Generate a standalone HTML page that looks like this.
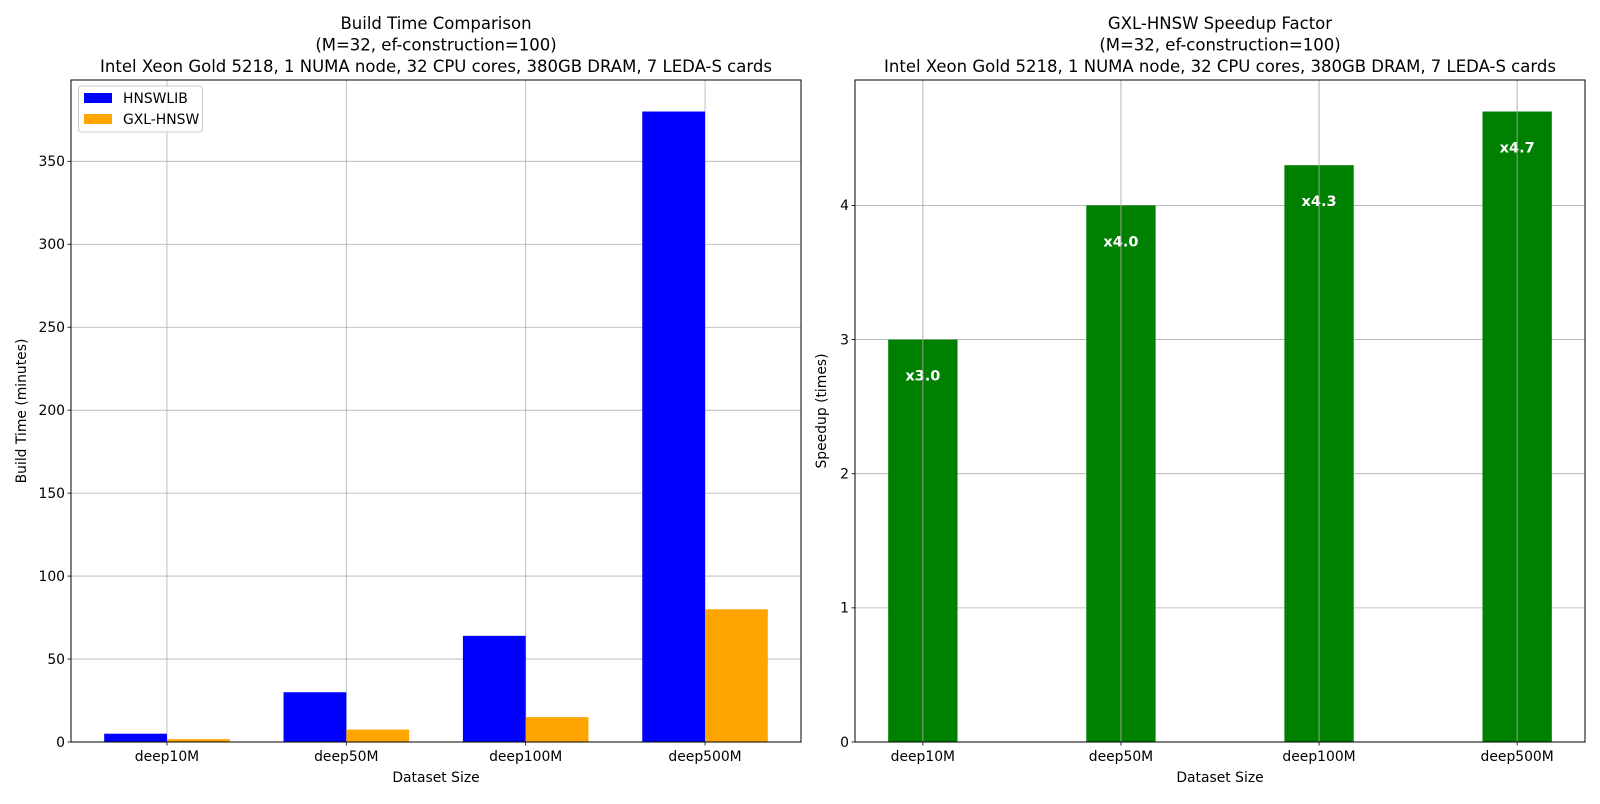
<!DOCTYPE html>
<html><head><meta charset="utf-8"><style>
body{margin:0;background:#fff;font-family:"DejaVu Sans","Liberation Sans",sans-serif}
svg text{font-family:"DejaVu Sans","Liberation Sans",sans-serif}
</style></head><body>
<svg id="c" width="1600" height="800" xmlns="http://www.w3.org/2000/svg"></svg>
<script>
const categories=["deep10M","deep50M","deep100M","deep500M"];
const hnswlib=[5,30,64,380];
const gxl=[1.7,7.5,15,80];
const speedup=[3.0,4.0,4.3,4.7];
const speedLabels=["x3.0","x4.0","x4.3","x4.7"];
const leftTicks=[0,50,100,150,200,250,300,350];
const rightTicks=[0,1,2,3,4];
const svg=document.getElementById('c');
const NS="http://www.w3.org/2000/svg";
function el(tag,attrs,parent,text){const e=document.createElementNS(NS,tag);for(const k in attrs)e.setAttribute(k,attrs[k]);if(text!==undefined)e.textContent=text;(parent||svg).appendChild(e);return e;}
function panel(opt){
  const g=el('g',{});
  
  
  const L=opt.L,R=opt.R,T=80,B=742;
  const xs=v=>L+(v-opt.xmin)/(opt.xmax-opt.xmin)*(R-L);
  const ys=v=>B-v/opt.ymax*(B-T);
  // titles
  opt.titles.forEach((t,i)=>{const e=el('text',{x:(L+R)/2,y:29+i*21.5,'text-anchor':'middle','font-size':'16.5px',fill:'#000'},g,t);
    
    });
  // grid y
  opt.yticks.forEach(v=>{const y=ys(v);
    el('line',{x1:L,x2:R,y1:y,y2:y,stroke:'#b0b0b0','stroke-width':0.8},g);
    el('line',{x1:L-3.5,x2:L,y1:y,y2:y,stroke:'#000','stroke-width':0.8},g);
    const t=el('text',{x:L-6,y:y+4.8,'text-anchor':'end','font-size':'13.9px'},g,String(v));
    
    });
  categories.forEach((c,i)=>{const x=xs(i);
    el('line',{x1:x,x2:x,y1:T,y2:B,stroke:'#b0b0b0','stroke-width':0.8},g);
    el('line',{x1:x,x2:x,y1:B,y2:B+3.5,stroke:'#000','stroke-width':0.8},g);
    const t=el('text',{x:x,y:B+19,'text-anchor':'middle','font-size':'13.9px'},g,c);
    
    });
  opt.draw(g,xs,ys);
  el('rect',{x:L,y:T,width:R-L,height:B-T,fill:'none',stroke:'#000','stroke-width':1},g);
  const xl=el('text',{x:(L+R)/2,y:B+40,'text-anchor':'middle','font-size':'13.9px'},g,'Dataset Size');
  
  
  const yl=el('text',{x:0,y:0,'text-anchor':'middle','font-size':'13.9px',transform:`translate(${opt.ylx},${(T+B)/2}) rotate(-90)`},g,opt.ylabel);
  
  
}
panel({name:'build-time-panel',L:71,R:801,xmin:-0.535,xmax:3.535,ymax:399,yticks:leftTicks,ylabel:'Build Time (minutes)',ylx:26,
 titles:['Build Time Comparison','(M=32, ef-construction=100)','Intel Xeon Gold 5218, 1 NUMA node, 32 CPU cores, 380GB DRAM, 7 LEDA-S cards'],
 draw:(g,xs,ys)=>{
  categories.forEach((c,i)=>{
   const b=el('rect',{x:xs(i-0.35),y:ys(hnswlib[i]),width:xs(i)-xs(i-0.35),height:ys(0)-ys(hnswlib[i]),fill:'#0000ff'},g);
   
   
   const o=el('rect',{x:xs(i),y:ys(gxl[i]),width:xs(i+0.35)-xs(i),height:ys(0)-ys(gxl[i]),fill:'#ffa500'},g);
   
   
  });
  const lg=el('g',{},g);
  
  
  el('rect',{x:78.5,y:86,width:124,height:46,rx:3,fill:'#fff','fill-opacity':0.8,stroke:'#ccc'},lg);
  el('rect',{x:84,y:93,width:28,height:10,fill:'#0000ff'},lg);
  el('text',{x:123,y:103,'font-size':'13.9px'},lg,'HNSWLIB');
  el('rect',{x:84,y:114,width:28,height:10,fill:'#ffa500'},lg);
  el('text',{x:123,y:124,'font-size':'13.9px'},lg,'GXL-HNSW');
 }});
panel({name:'speedup-panel',L:855,R:1585,xmin:-0.3425,xmax:3.3425,ymax:4.935,yticks:rightTicks,ylabel:'Speedup (times)',ylx:826,
 titles:['GXL-HNSW Speedup Factor','(M=32, ef-construction=100)','Intel Xeon Gold 5218, 1 NUMA node, 32 CPU cores, 380GB DRAM, 7 LEDA-S cards'],
 draw:(g,xs,ys)=>{
  categories.forEach((c,i)=>{
   const b=el('rect',{x:xs(i-0.175),y:ys(speedup[i]),width:xs(i+0.175)-xs(i-0.175),height:ys(0)-ys(speedup[i]),fill:'#008000'},g);
   
   
   const t=el('text',{x:xs(i),y:ys(speedup[i])+41,'text-anchor':'middle','font-size':'14.5px','font-weight':'bold',fill:'#fff'},g,speedLabels[i]);
   
   
  });
  categories.forEach((c,i)=>{const x=xs(i);el('line',{x1:x,x2:x,y1:80,y2:742,stroke:'#b0b0b0','stroke-width':0.8},g);});
 }});
</script>
</body></html>
